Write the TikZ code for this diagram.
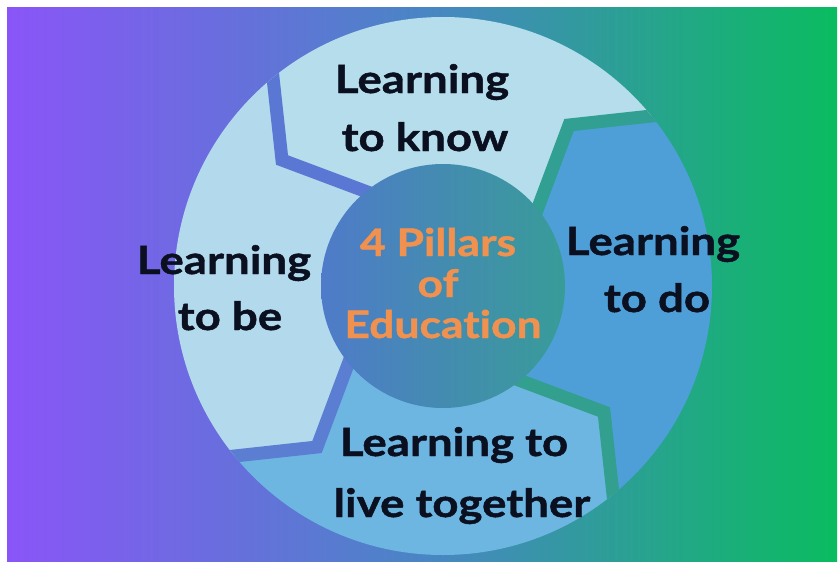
\documentclass[tikz,border=0pt]{standalone}
\usepackage{fontspec}
\setmainfont{Lato}
\newfontfamily\lblfont{Lato}[FakeStretch=1.17, Ligatures=NoCommon, BoldFeatures={FakeBold=1.2}]
\definecolor{bgL}{HTML}{8A55F8}
\definecolor{bgM}{HTML}{4A85C5}
\definecolor{bgR}{HTML}{0ABC60}
\definecolor{knowc}{HTML}{B5DDEB}
\definecolor{bec}{HTML}{B3D9EC}
\definecolor{doc}{HTML}{4E9FD7}
\definecolor{livec}{HTML}{6DB6E1}
\definecolor{bandTL}{HTML}{5A78D3}
\definecolor{bandBL}{HTML}{5B7DD2}
\definecolor{bandTR}{HTML}{31A092}
\definecolor{bandBR}{HTML}{33A08F}
\definecolor{hubL}{HTML}{4F7BC9}
\definecolor{hubR}{HTML}{389C98}
\definecolor{txt}{HTML}{0B1020}
\definecolor{orangec}{HTML}{F0914F}
\begin{document}
\begin{tikzpicture}[x=1pt,y=-1pt,
  lbl/.style={font=\lblfont\bfseries\fontsize{39}{39}\selectfont, text=txt, inner sep=0pt, anchor=base},
  ctr/.style={font=\lblfont\bfseries\fontsize{38}{38}\selectfont, text=orangec, inner sep=0pt, anchor=base},
  band/.style={line width=13pt, line join=miter, line cap=butt}]
\useasboundingbox (0,0) rectangle (838,562);
\fill[white] (0,0) rectangle (838,562);
\shade[left color=bgL, right color=bgR, middle color=bgM] (7,7) rectangle (837,561);
\begin{scope}[shift={(443,286)}]
  \coordinate (C) at (0,0);
  \coordinate (A1) at (-33,-78); \coordinate (V1) at (-161,-126); \coordinate (O1) at (-181,-309);
  \coordinate (A2) at (78,-33);  \coordinate (V2) at (126,-161);  \coordinate (O2) at (309,-181);
  \coordinate (A3) at (33,78);   \coordinate (V3) at (161,126);   \coordinate (O3) at (181,309);
  \coordinate (A4) at (-78,33);  \coordinate (V4) at (-126,161);  \coordinate (O4) at (-309,181);
  \begin{scope}
    \clip (C) circle[radius=269pt];
    \fill[knowc] (C) -- (A1) -- (V1) -- (O1) -- (0,-420) -- (O2) -- (V2) -- (A2) -- cycle;
    \fill[doc] (C) -- (A2) -- (V2) -- (O2) -- (420,0) -- (O3) -- (V3) -- (A3) -- cycle;
    \fill[livec] (C) -- (A3) -- (V3) -- (O3) -- (0,420) -- (O4) -- (V4) -- (A4) -- cycle;
    \fill[bec] (C) -- (A4) -- (V4) -- (O4) -- (-420,0) -- (O1) -- (V1) -- (A1) -- cycle;
    \draw[band, bandTL] (A1) -- (V1) -- (O1);
    \draw[band, bandTR] (A2) -- (V2) -- (O2);
    \draw[band, bandBR] (A3) -- (V3) -- (O3);
    \draw[band, bandBL] (A4) -- (V4) -- (O4);
  \end{scope}
  \shade[left color=hubL, right color=hubR] (C) circle[radius=122pt];
\end{scope}
\node[lbl] (know1) at (422,93) {Learning};
\node[lbl] (know2) at (425,151) {to know};
\node[lbl] (be1) at (224,274) {Learning};
\node[lbl] (be2) at (230,330) {to be};
\node[lbl] (do1) at (653,255) {Learning};
\node[lbl] (do2) at (657,312) {to do};
\node[lbl] (live1) at (454,456) {Learning to};
\node[lbl] (live2) at (462,517) {live together};
\node[ctr] (c1) at (438,256) {4 Pillars};
\node[ctr] (c2) at (438,297) {of};
\node[ctr] (c3) at (443,338) {Education};
\end{tikzpicture}
\end{document}
